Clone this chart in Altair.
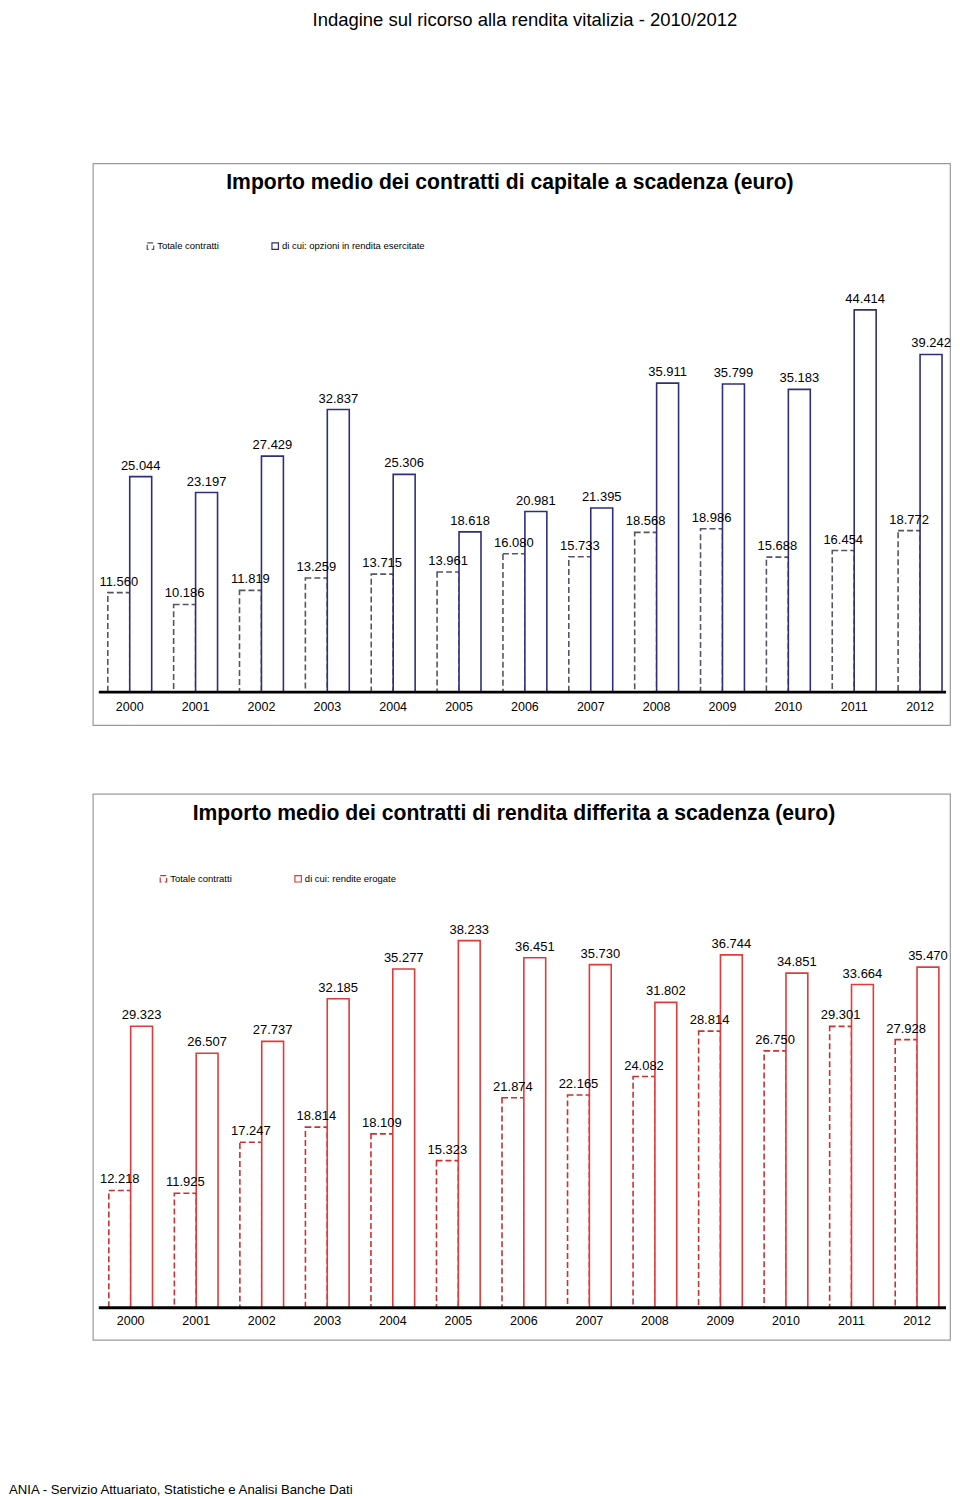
import altair as alt
import pandas as pd

FONT = "Liberation Sans"

years = [str(y) for y in range(2000, 2013)]

# Grafico 1: capitale a scadenza
cap_series = ["Totale contratti", "di cui: opzioni in rendita esercitate"]
cap_dashed = [11560, 10186, 11819, 13259, 13715, 13961, 16080, 15733, 18568, 18986, 15688, 16454, 18772]
cap_solid = [25044, 23197, 27429, 32837, 25306, 18618, 20981, 21395, 35911, 35799, 35183, 44414, 39242]

# Grafico 2: rendita differita a scadenza
dif_series = ["Totale contratti", "di cui: rendite erogate"]
dif_dashed = [12218, 11925, 17247, 18814, 18109, 15323, 21874, 22165, 24082, 28814, 26750, 29301, 27928]
dif_solid = [29323, 26507, 27737, 32185, 35277, 38233, 36451, 35730, 31802, 36744, 34851, 33664, 35470]

header = "Indagine sul ricorso alla rendita vitalizia - 2010/2012"
footer = "ANIA - Servizio Attuariato, Statistiche e Analisi Banche Dati"
title1 = "Importo medio dei contratti di capitale a scadenza (euro)"
title2 = "Importo medio dei contratti di rendita differita a scadenza (euro)"


def fmt(v):
    return f"{v:,}".replace(",", ".")


def panel(title, title_x, series, v_dash, v_solid, colors, ydom, w, h,
          pad_outer, align, lx, ly, colpad, extras):
    df = pd.DataFrame({
        "anno": years * 2,
        "serie": [series[0]] * len(years) + [series[1]] * len(years),
        "valore": v_dash + v_solid,
    })
    df["etichetta"] = df["valore"].map(fmt)

    xenc = alt.X("anno:N", sort=years,
                 scale=alt.Scale(paddingInner=1 / 3, paddingOuter=pad_outer,
                                 align=align),
                 axis=alt.Axis(title=None, orient="bottom", offset=-33,
                               domain=False, ticks=False, labelAngle=0,
                               labelFont=FONT, labelFontSize=12.5,
                               labelColor="black", labelPadding=8))
    xoff = alt.XOffset("serie:N", sort=series,
                       scale=alt.Scale(domain=series, paddingInner=0,
                                       paddingOuter=0))
    yenc = alt.Y("valore:Q",
                 scale=alt.Scale(domain=ydom, nice=False, zero=False),
                 axis=None)
    leg = alt.Legend(title=None, orient="none", legendX=lx, legendY=ly,
                     direction="horizontal", symbolType="square",
                     symbolSize=42, symbolStrokeWidth=1.2,
                     symbolFillColor="white", labelFont=FONT,
                     labelFontSize=9.5, labelColor="black", labelOffset=2,
                     columnPadding=colpad, padding=0)

    base = alt.Chart(df)
    bars = base.mark_bar(fill="white", fillOpacity=1, strokeWidth=1.6).encode(
        x=xenc, xOffset=xoff, y=yenc, y2=alt.datum(0),
        stroke=alt.Stroke("serie:N", sort=series,
                          scale=alt.Scale(domain=series, range=colors),
                          legend=leg),
        strokeDash=alt.StrokeDash("serie:N", sort=series,
                                  scale=alt.Scale(domain=series,
                                                  range=[[6, 3], [1, 0]]),
                                  legend=leg),
    )
    labels = base.mark_text(font=FONT, fontSize=13, baseline="bottom",
                            dy=-4, color="black").encode(
        x=alt.X("anno:N", sort=years), xOffset=alt.XOffset("serie:N", sort=series),
        y=yenc, text="etichetta:N")
    rule = alt.Chart(pd.DataFrame({"valore": [0]})).mark_rule(
        color="black", strokeWidth=3).encode(
        y="valore:Q", x=alt.value(6), x2=alt.value(w - 4))
    ttl = alt.Chart(pd.DataFrame({"t": [title]})).mark_text(
        font=FONT, fontSize=21.2, fontWeight="bold", align="center",
        baseline="middle", color="black").encode(
        x=alt.value(title_x), y=alt.value(20), text="t:N")

    return alt.layer(bars, labels, rule, ttl, *extras).properties(
        width=w, height=h)


hdr = alt.Chart(pd.DataFrame({"t": [header]})).mark_text(
    font=FONT, fontSize=18.5, align="center", baseline="top",
    color="black").encode(x=alt.value(433), y=alt.value(-153), text="t:N")
ftr = alt.Chart(pd.DataFrame({"t": [footer]})).mark_text(
    font=FONT, fontSize=13.2, align="left", baseline="middle",
    color="black").encode(x=alt.value(-84), y=alt.value(698), text="t:N")

top = panel(title1, 418, cap_series, cap_dashed, cap_solid,
            ["#555566", "#2E2E7A"], [-3827, 61457], 859, 563,
            0.1742, 0.652, 53, 78, 50, [hdr])
bottom = panel(title2, 422, dif_series, dif_dashed, dif_solid,
               ["#C83232", "#E03A3A"], [-3325, 53507], 859, 547,
               0.207, 0.59, 66, 80, 60, [ftr])

chart = alt.vconcat(top, bottom, spacing=67).resolve_scale(
    x="independent", y="independent", stroke="independent",
    strokeDash="independent", xOffset="independent"
).resolve_legend(stroke="independent", strokeDash="independent").properties(
    padding={"left": 0, "top": 0, "right": 0, "bottom": 0}
).configure_view(stroke="#9a9a9a", strokeWidth=1.2)

chart.save("out.html", embed_options={"renderer": "svg", "actions": False})
